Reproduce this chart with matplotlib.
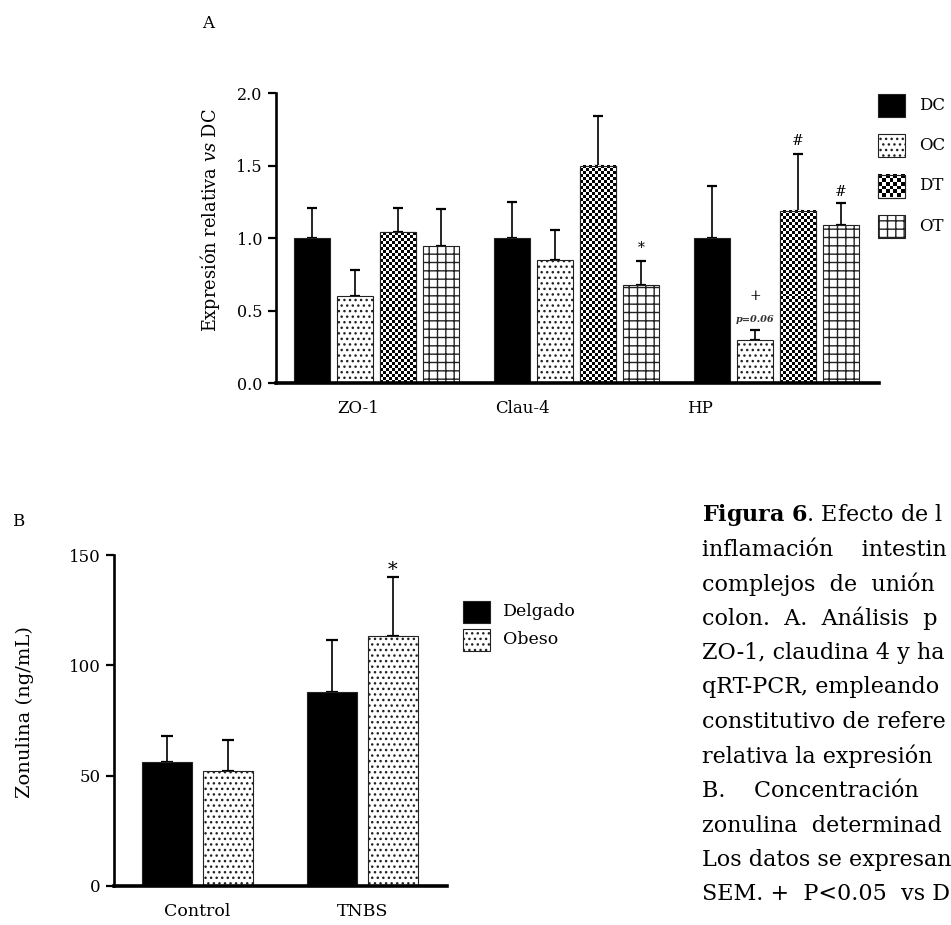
import numpy as np
import matplotlib
matplotlib.use("Agg")
import matplotlib.pyplot as plt
from matplotlib.patches import Rectangle

plt.rcParams['font.family'] = 'DejaVu Serif'
plt.rcParams['mathtext.fontset'] = 'dejavuserif'
plt.rcParams['hatch.linewidth'] = 1.0

# ---- panel A: expresion relativa vs DC ----
genes = ["ZO-1", "Clau-4", "HP"]
groups_a = ["DC", "OC", "DT", "OT"]
dc_mean = [1.00, 1.00, 1.00]
oc_mean = [0.60, 0.85, 0.30]
dt_mean = [1.04, 1.50, 1.19]
ot_mean = [0.95, 0.68, 1.09]
dc_sem = [0.21, 0.25, 0.36]
oc_sem = [0.18, 0.21, 0.07]
dt_sem = [0.17, 0.34, 0.39]
ot_sem = [0.25, 0.16, 0.15]
# (gene, group, mark, y)
marks_a = [(1, 3, "*", 0.93), (2, 2, "#", 1.67), (2, 3, "#", 1.32), (2, 1, "+", 0.60)]
pnote_a = (2, 1, "p=0.06", 0.44)

# ---- panel B: zonulina ----
conditions = ["Control", "TNBS"]
groups_b = ["Delgado", "Obeso"]
delgado_mean = [56.0, 87.8]
delgado_sem = [12.1, 23.7]
obeso_mean = [52.2, 113.4]
obeso_sem = [14.1, 26.7]
marks_b = [(1, 1, "*", 143)]

# caption as it shows on the page (cut at the right margin)
caption = [
    r"$\mathbf{Figura\ 6}$. Efecto de l",
    "inflamación    intestin",
    "complejos  de  unión",
    "colon.  A.  Análisis  p",
    "ZO-1, claudina 4 y ha",
    "qRT-PCR, empleando",
    "constitutivo de refere",
    "relativa la expresión",
    "B.    Concentración",
    "zonulina  determinad",
    "Los datos se expresan",
    "SEM. +  P<0.05  vs D",
]

W, H = 951, 925
fig = plt.figure(figsize=(W / 100, H / 100), dpi=100)


def px_axes(left, top, right, bottom):
    return fig.add_axes([left / W, 1 - bottom / H, (right - left) / W, (bottom - top) / H])


def checker(ax, x0, y0, w, h, cell=3.0, zorder=2.1):
    (a0, b0), (a1, b1) = ax.transData.transform([(x0, y0), (x0 + w, y0 + h)])
    nx = max(1, int(round(abs(a1 - a0) / cell)))
    ny = max(1, int(round(abs(b1 - b0) / cell)))
    board = np.indices((ny, nx)).sum(axis=0) % 2
    ax.imshow(board, cmap='gray_r', vmin=0, vmax=1, extent=(x0, x0 + w, y0, y0 + h),
              aspect='auto', interpolation='nearest', zorder=zorder)


def style_axes(ax, xsize, ysize):
    ax.spines[['top', 'right']].set_visible(False)
    ax.spines['left'].set_linewidth(1.9)
    ax.spines['bottom'].set_linewidth(2.6)
    ax.tick_params(axis='y', length=6, width=1.6, pad=4, labelsize=ysize)
    ax.tick_params(axis='x', length=0, pad=12, labelsize=xsize)


edge = '#222222'
styles = [dict(facecolor='black', hatch=None),
          dict(facecolor='white', hatch='...'),
          dict(facecolor='white', hatch=None),
          dict(facecolor='white', hatch='++')]

# ---------- A ----------
ax_a = px_axes(276, 93.3, 879, 383.3)
ax_a.set_xlim(-0.5025, 2.5125)
ax_a.set_ylim(0, 2.0)
x = np.arange(len(genes))
step, width = 0.215, 0.18
means = [dc_mean, oc_mean, dt_mean, ot_mean]
sems = [dc_sem, oc_sem, dt_sem, ot_sem]
for i, (m, s) in enumerate(zip(means, sems)):
    xi = x + (i - 1.5) * step
    ax_a.errorbar(xi, m, yerr=[np.zeros(len(m)), s], fmt='none', ecolor='black',
                  elinewidth=1.2, capsize=3.4, capthick=1.6, zorder=1)
    bars = ax_a.bar(xi, m, width, edgecolor=edge, linewidth=0.8, zorder=2, **styles[i])
    if groups_a[i] == "DT":
        for b in bars:
            checker(ax_a, b.get_x(), 0, b.get_width(), b.get_height())
        ax_a.bar(xi, m, width, fill=False, edgecolor=edge, linewidth=0.8, zorder=2.2)

for g, k, txt, y in marks_a:
    ax_a.text(x[g] + (k - 1.5) * step, y, txt, ha='center', va='center', fontsize=10)
g, k, txt, y = pnote_a
ax_a.text(x[g] + (k - 1.5) * step, y, txt, ha='center', va='center', fontsize=7,
          style='italic', weight='bold', color='#333333')

ax_a.set_xticks([-0.09, 0.73, 1.615])
ax_a.set_xticklabels(genes)
ax_a.set_yticks([0, 0.5, 1.0, 1.5, 2.0])
ax_a.set_yticklabels([f"{v:.1f}" for v in [0, 0.5, 1.0, 1.5, 2.0]])
style_axes(ax_a, 12, 11.5)

# ---------- B ----------
ax_b = px_axes(114.3, 555, 446.7, 886)
ax_b.set_xlim(-0.504, 1.51)
ax_b.set_ylim(0, 150)
xb = np.arange(len(conditions))
off_b, width_b = 0.182, 0.303
for i, (m, s) in enumerate([(delgado_mean, delgado_sem), (obeso_mean, obeso_sem)]):
    xi = xb + (i - 0.5) * 2 * off_b
    ax_b.errorbar(xi, m, yerr=[np.zeros(len(m)), s], fmt='none', ecolor='black',
                  elinewidth=1.2, capsize=4.5, capthick=1.6, zorder=1)
    ax_b.bar(xi, m, width_b, edgecolor=edge, linewidth=0.8, zorder=2, **styles[i])
for g, k, txt, y in marks_b:
    ax_b.text(xb[g] + (k - 0.5) * 2 * off_b, y, txt, ha='center', va='center', fontsize=14)
ax_b.set_xticks(xb)
ax_b.set_xticklabels(conditions)
ax_b.set_yticks([0, 50, 100, 150])
style_axes(ax_b, 12.5, 12)

# ---------- overlay: labels, legends, caption (pixel coords) ----------
ov = fig.add_axes([0, 0, 1, 1])
ov.set_xlim(0, W)
ov.set_ylim(H, 0)
ov.axis('off')

ov.text(208, 23, "A", ha='center', va='center', fontsize=12)
ov.text(18, 521, "B", ha='center', va='center', fontsize=12)
ov.text(210, 220, r"Expresión relativa $\mathit{vs}$ DC", rotation=90,
        ha='center', va='center', fontsize=12.8)
ov.text(25, 712, "Zonulina (ng/mL)", rotation=90, ha='center', va='center', fontsize=14)

for i, name in enumerate(groups_a):
    yc = 105 + i * 40.5
    ov.add_patch(Rectangle((878, yc - 11.5), 27, 23, edgecolor=edge, linewidth=0.8,
                           zorder=2, **styles[i]))
    if name == "DT":
        checker(ov, 878, yc - 11.5, 27, 23, cell=3.9)
        ov.add_patch(Rectangle((878, yc - 11.5), 27, 23, fill=False, edgecolor=edge,
                               linewidth=0.8, zorder=2.2))
    ov.text(919, yc, name, va='center', fontsize=12)

for i, name in enumerate(groups_b):
    yc = 612 + i * 27.5
    ov.add_patch(Rectangle((463, yc - 11), 27, 22, edgecolor=edge, linewidth=0.8,
                           zorder=2, **styles[i]))
    ov.text(503, yc, name, va='center', fontsize=12.5)

for i, line in enumerate(caption):
    ov.text(702, 515 + i * 34.5, line, va='center', ha='left', fontsize=16)

fig.savefig("out.png", dpi=100)
